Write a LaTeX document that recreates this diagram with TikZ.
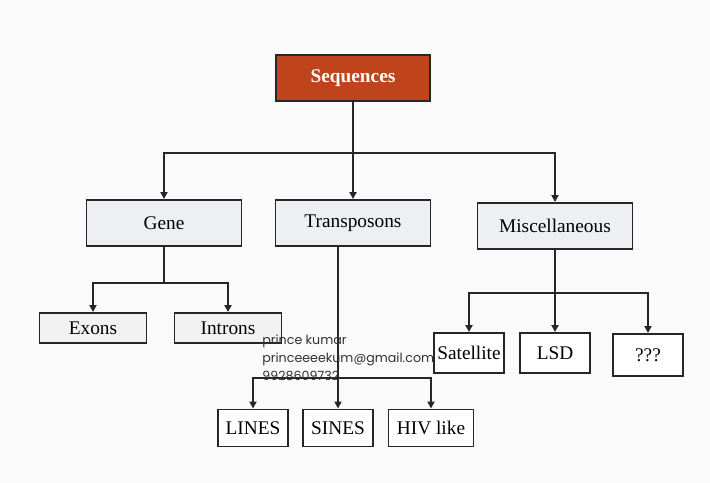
\documentclass[tikz,border=0pt]{standalone}
\usepackage{fontspec}
\setmainfont{Liberation Serif}
\newfontfamily\markfont{Poppins}
\usepackage{xcolor}
\usetikzlibrary{arrows.meta,positioning,calc}

\definecolor{rootred}{HTML}{C0441B}
\definecolor{boxgray}{HTML}{EDEFF2}
\definecolor{leafgray}{HTML}{F2F2F2}

\begin{document}
\begin{tikzpicture}[x=0.02cm,y=-0.02cm,font=\fontsize{11}{13}\selectfont,
    box/.style={draw=black!85,line width=1.1pt,inner sep=0pt},
    rootbox/.style={box,fill=rootred,text=white,font=\fontsize{11}{13}\selectfont\bfseries,
                    minimum width=3.08cm,minimum height=0.92cm},
    catbox/.style={box,fill=boxgray,minimum width=3.1cm,minimum height=0.92cm},
    leafbox/.style={box,fill=leafgray,minimum width=2.14cm,minimum height=0.6cm},
    smallbox/.style={box,fill=white,minimum width=1.4cm,minimum height=0.74cm},
    arr/.style={-{Triangle[length=4pt,width=4pt]},line width=1pt,black!85},
    link/.style={line width=1pt,black!85}]
  % page
  \fill[white!96!gray] (0,0) rectangle (710,483);
  \useasboundingbox (0,0) rectangle (710,483);

  % top level
  \node[rootbox] (seq) at (353,78) {Sequences};

  % categories
  \node[catbox] (gene)  at (164,223) {Gene};
  \node[catbox] (trans) at (353,223) {Transposons};
  \node[catbox] (misc)  at (555,226) {Miscellaneous};

  % gene parts
  \node[leafbox] (exons)   at (93,328)  {Exons};
  \node[leafbox] (introns) at (228,328) {Introns};

  % transposon kinds
  \node[smallbox] (lines) at (253,428) {LINES};
  \node[smallbox] (sines) at (338,428) {SINES};
  \node[smallbox,minimum width=1.7cm] (hiv) at (431,428) {HIV like};

  % miscellaneous kinds
  \node[smallbox,minimum height=0.8cm] (sat) at (469,353) {Satellite};
  \node[smallbox,minimum height=0.8cm] (lsd) at (555,353) {LSD};
  \node[smallbox,minimum height=0.84cm] (unk) at (648,355) {???};

  % branch points
  \coordinate (split) at (353,153);
  \coordinate (gsplit) at (164,283);
  \coordinate (tsplit) at (338,378);
  \coordinate (msplit) at (555,293);

  % connectors
  \draw[arr] (seq.south) -- (trans.north);
  \draw[arr] (split) -| (gene.north);
  \draw[arr] (split) -| (misc.north);

  \draw[link] (gene.south) -- (gsplit);
  \draw[arr] (gsplit) -| (exons.north);
  \draw[arr] (gsplit) -| (introns.north);

  \draw[arr] (trans.south -| sines.north) -- (sines.north);
  \draw[arr] (tsplit) -| (lines.north);
  \draw[arr] (tsplit) -| (hiv.north);

  \draw[arr] (misc.south) -- (lsd.north);
  \draw[arr] (msplit) -| (sat.north);
  \draw[arr] (msplit) -| (unk.north);

  % watermark
  \node[anchor=north west,align=left,inner sep=0pt,text=black!80,
        font=\markfont\fontsize{7.2}{10}\selectfont] (mark) at (262,335)
    {prince kumar\\princeeeekum@gmail.com\\9928609732};
\end{tikzpicture}
\end{document}
